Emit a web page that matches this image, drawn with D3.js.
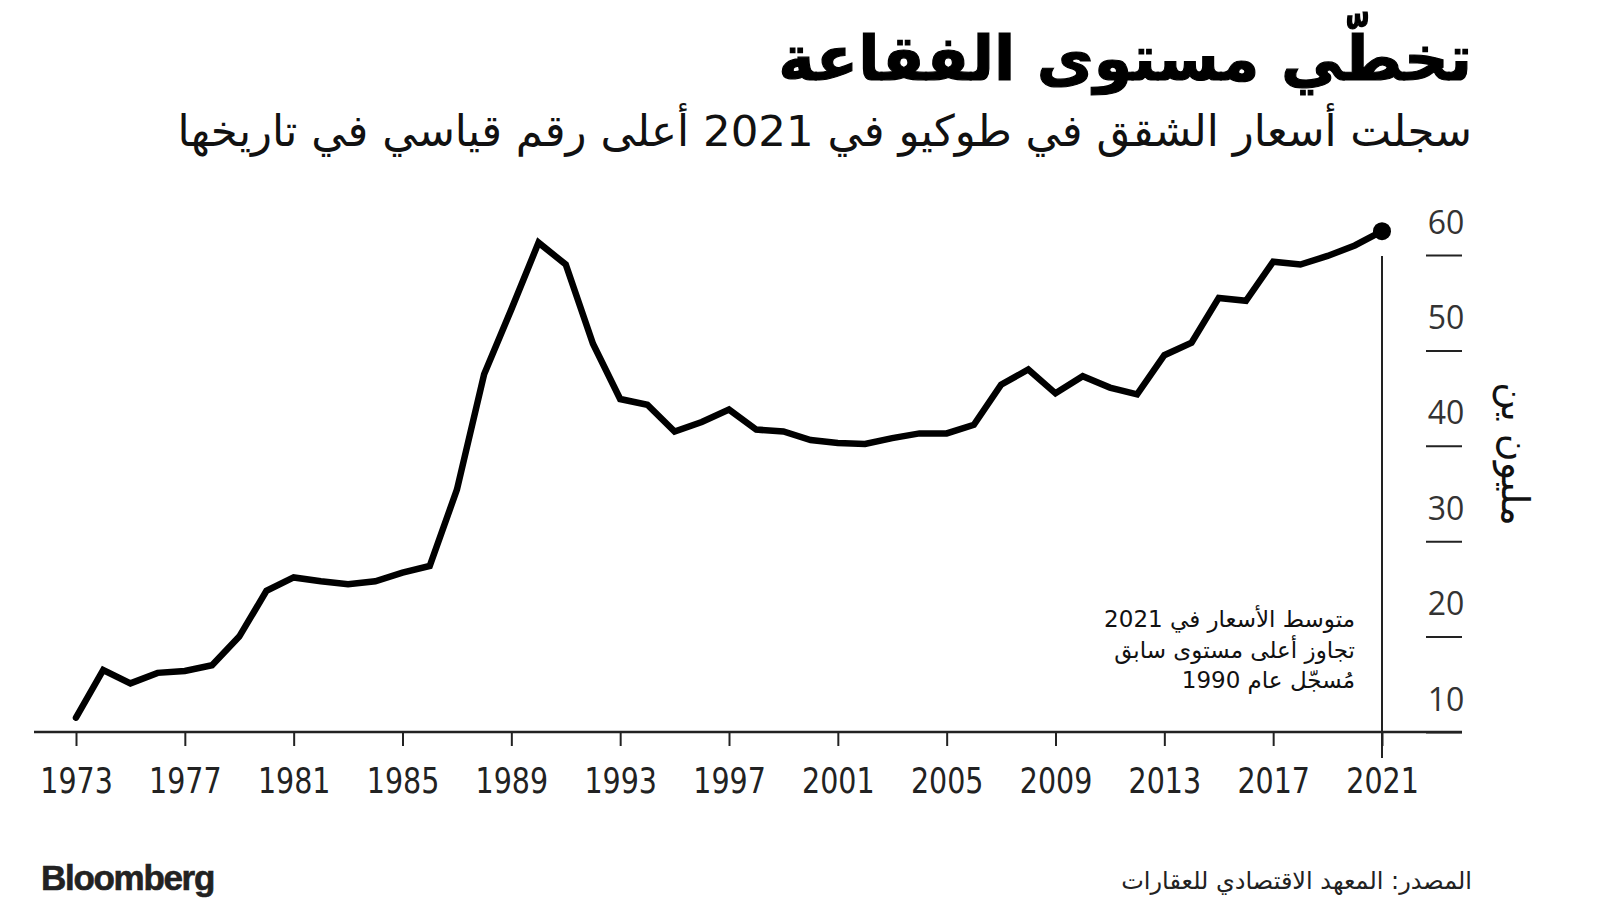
<!DOCTYPE html>
<html>
<head>
<meta charset="utf-8">
<script src="https://cdn.jsdelivr.net/npm/d3@7"></script>
<style>
  html, body { margin: 0; padding: 0; background: #fff; }
  svg { display: block; }
  .ar { font-family: "DejaVu Sans", sans-serif; direction: rtl; }
</style>
</head>
<body>
<svg id="chart" width="1600" height="910"></svg>
<script>
const years = [1973,1974,1975,1976,1977,1978,1979,1980,1981,1982,1983,1984,1985,1986,1987,1988,1989,1990,1991,1992,1993,1994,1995,1996,1997,1998,1999,2000,2001,2002,2003,2004,2005,2006,2007,2008,2009,2010,2011,2012,2013,2014,2015,2016,2017,2018,2019,2020,2021];
const prices = [11.5,16.5,15.1,16.2,16.4,17.0,20.0,24.8,26.2,25.8,25.5,25.8,26.7,27.4,35.4,47.5,54.3,61.3,59.0,50.7,44.9,44.3,41.5,42.5,43.8,41.7,41.5,40.6,40.3,40.2,40.8,41.3,41.3,42.2,46.4,48.0,45.5,47.3,46.1,45.4,49.5,50.8,55.5,55.2,59.3,59.0,59.9,61.0,62.5];
const xTickYears = [1973,1977,1981,1985,1989,1993,1997,2001,2005,2009,2013,2017,2021];
const yTickValues = [10,20,30,40,50,60];

const title = "تخطّي مستوى الفقاعة";
const subtitle = "سجلت أسعار الشقق في طوكيو في 2021 أعلى رقم قياسي في تاريخها";
const yLabel = "مليون ين";
const noteLines = ["متوسط الأسعار في 2021", "تجاوز أعلى مستوى سابق", "مُسجّل عام 1990"];
const source = "المصدر: المعهد الاقتصادي للعقارات";
const brand = "Bloomberg";

const svg = d3.select("#chart");

const x = d3.scaleLinear().domain([1973, 2021]).range([76, 1382]);
const y = d3.scaleLinear().domain([10, 60]).range([732, 255]);

// Title & subtitle
svg.append("text").attr("class", "ar")
  .attr("x", 1472).attr("y", 80)
  .attr("text-anchor", "start")
  .style("font-weight", "bold").style("font-size", "62px").attr("fill", "#000")
  .attr("stroke", "#000").attr("stroke-width", 1.2)
  .text(title);

svg.append("text").attr("class", "ar")
  .attr("x", 1472).attr("y", 146)
  .attr("text-anchor", "start")
  .style("font-size", "43.5px").attr("fill", "#111")
  .text(subtitle);

// X axis
const xAxis = d3.axisBottom(x).tickValues(xTickYears).tickFormat(d3.format("d")).tickSize(14).tickSizeOuter(0);
const gx = svg.append("g").attr("transform", `translate(0,${y(10)})`).call(xAxis);
gx.select(".domain").remove();
gx.selectAll(".tick line").attr("stroke", "#222").attr("stroke-width", 2);
gx.selectAll(".tick text")
  .attr("y", 0).attr("dy", 0)
  .attr("transform", "translate(0,61) scale(0.88,1)")
  .style("font-family", "'Liberation Sans Narrow', 'DejaVu Sans Condensed', sans-serif")
  .style("font-size", "36px").attr("fill", "#222");
svg.append("line")
  .attr("x1", 34).attr("x2", 1462).attr("y1", y(10)).attr("y2", y(10))
  .attr("stroke", "#222").attr("stroke-width", 2.5);

// Vertical reference line at 2021
svg.append("line")
  .attr("x1", x(2021)).attr("x2", x(2021))
  .attr("y1", y(60) + 1).attr("y2", y(10) + 26)
  .attr("stroke", "#222").attr("stroke-width", 2);

// Y axis (right)
const yAxis = d3.axisRight(y).tickValues(yTickValues).tickSize(36).tickFormat(d3.format("d"));
const gy = svg.append("g").attr("transform", "translate(1426,0)").call(yAxis);
gy.select(".domain").remove();
gy.selectAll(".tick line").attr("stroke", "#222").attr("stroke-width", 2);
gy.selectAll(".tick text")
  .attr("x", 20).attr("dy", 0).attr("y", -22)
  .attr("text-anchor", "middle")
  .style("font-family", "'Open Sans', sans-serif")
  .style("font-size", "32px").attr("fill", "#333");

// Y label
svg.append("text").attr("class", "ar")
  .attr("transform", "translate(1502,454) rotate(90)")
  .attr("text-anchor", "middle")
  .style("font-size", "38px").attr("fill", "#111")
  .text(yLabel);

// Line
const line = d3.line().x((d, i) => x(years[i])).y(d => y(d));
svg.append("path")
  .datum(prices)
  .attr("d", line)
  .attr("fill", "none").attr("stroke", "#000")
  .attr("stroke-width", 6.5).attr("stroke-linejoin", "miter").attr("stroke-linecap", "round");

svg.append("circle")
  .attr("cx", x(years[years.length - 1])).attr("cy", y(prices[prices.length - 1]))
  .attr("r", 9).attr("fill", "#000");

// Annotation
svg.append("g").selectAll("text").data(noteLines).join("text")
  .attr("class", "ar")
  .attr("x", 1355).attr("y", (d, i) => 627 + i * 30.5)
  .attr("text-anchor", "start")
  .style("font-size", "23px").attr("fill", "#111")
  .text(d => d);

// Footer
svg.append("text")
  .attr("x", 41).attr("y", 890)
  .style("font-family", "'Liberation Sans', Arial, sans-serif")
  .style("font-weight", "bold").style("font-size", "35px").style("letter-spacing", "-1.3px")
  .attr("fill", "#222").attr("stroke", "#222").attr("stroke-width", 0.6)
  .text(brand);

svg.append("text").attr("class", "ar")
  .attr("x", 1472).attr("y", 889)
  .attr("text-anchor", "start")
  .style("font-size", "24px").attr("fill", "#222")
  .text(source);
</script>
</body>
</html>
